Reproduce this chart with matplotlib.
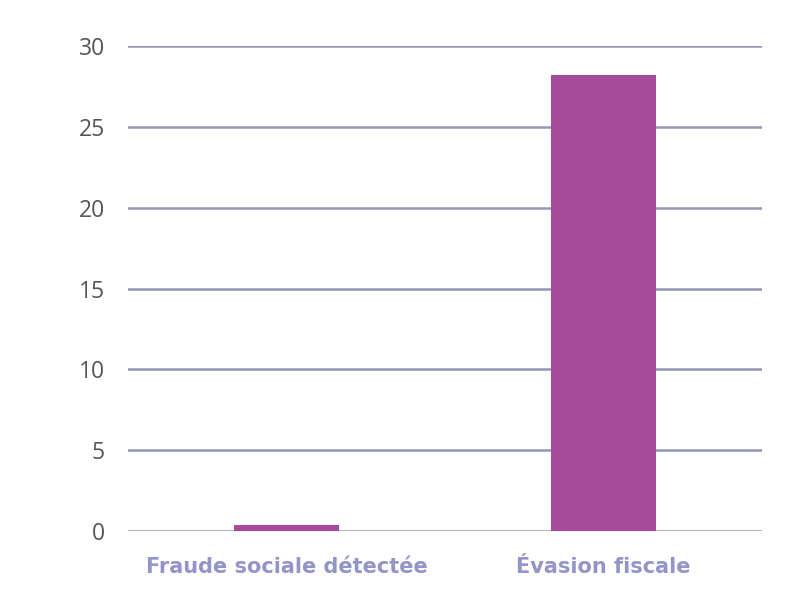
import matplotlib
matplotlib.use("Agg")
import matplotlib.pyplot as plt

categories = ["Fraude sociale détectée", "Évasion fiscale"]
values = [0.4, 28.2]
y_ticks = [0, 5, 10, 15, 20, 25, 30]

bar_color = "#a64b9b"
grid_color = "#9496b4"
label_color = "#9394c8"
tick_color = "#555555"

fig = plt.figure(figsize=(8.07, 6.16), dpi=100)
ax = fig.add_axes([0.159, 0.138, 0.785, 0.787])

x = list(range(len(categories)))
ax.bar(x, values, width=0.33, color=bar_color, zorder=3)

ax.set_xlim(-0.5, 1.5)
ax.set_ylim(0, 30)
ax.set_yticks(y_ticks)
ax.set_yticklabels([str(t) for t in y_ticks], fontsize=16.5, color=tick_color,
                   family="Open Sans")
ax.set_xticks(x)
ax.set_xticklabels(categories, fontsize=15, color=label_color,
                   fontweight="bold", family="DejaVu Sans")

ax.grid(axis="y", color=grid_color, linewidth=1.8, zorder=0)
ax.tick_params(axis="y", length=0, pad=17)
ax.tick_params(axis="x", length=0, pad=19)
for s in ax.spines.values():
    s.set_visible(False)

fig.savefig("out.png", dpi=100, facecolor="white")
